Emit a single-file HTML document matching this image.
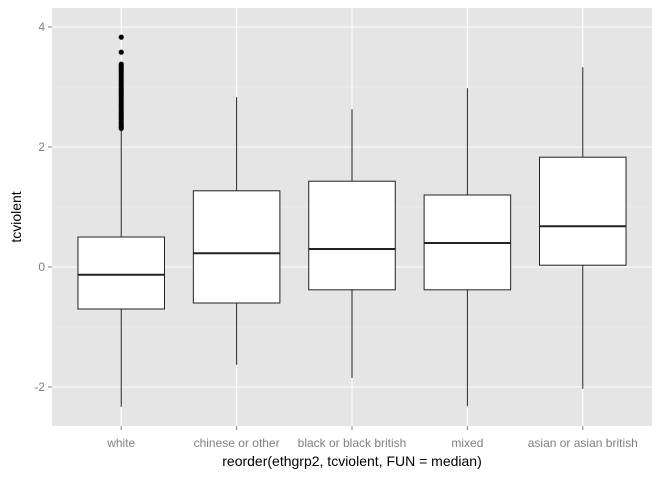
<!DOCTYPE html>
<html><head><meta charset="utf-8"><style>
body{margin:0;background:#fff;font-family:"Liberation Sans",sans-serif}
</style></head><body>
<svg id="c" width="672" height="480" xmlns="http://www.w3.org/2000/svg"></svg>
<script>
const categories=["white","chinese or other","black or black british","mixed","asian or asian british"];
const lowWhisker=[-2.33,-1.63,-1.85,-2.32,-2.03];
const q1=[-0.7,-0.6,-0.38,-0.38,0.03];
const medians=[-0.13,0.23,0.3,0.4,0.68];
const q3=[0.5,1.27,1.43,1.2,1.83];
const highWhisker=[2.28,2.83,2.63,2.98,3.33];
const outliersWhite=[3.83,3.58,3.38,3.34,3.3,3.26,3.22,3.18,3.14,3.1,3.06,3.02,2.98,2.94,2.9,2.86,2.82,2.78,2.74,2.7,2.66,2.62,2.58,2.54,2.5,2.46,2.42,2.38,2.34,2.31];
const yTicks=[-2,0,2,4];
const NS="http://www.w3.org/2000/svg";
const svg=document.getElementById('c');
const L=52,R=652,T=8,B=426;
const step=(R-L)/(categories.length-1+1.2);
const y=v=>267-v*60;
const x=i=>L+(i+0.6)*step;
function el(t,a,p){const e=document.createElementNS(NS,t);for(const k in a)e.setAttribute(k,a[k]);(p||svg).appendChild(e);return e;}
const bg=el('rect',{x:L,y:T,width:R-L,height:B-T,fill:'#e5e5e5'});


for(let i=0;i<yTicks.length-1;i++){const m=(yTicks[i]+yTicks[i+1])/2;el('line',{x1:L,x2:R,y1:y(m),y2:y(m),stroke:'#f2f2f2','stroke-width':0.6});}
yTicks.forEach(v=>{
 const g=el('line',{x1:L,x2:R,y1:y(v),y2:y(v),stroke:'#fff','stroke-width':1.1});
 
 
 el('line',{x1:L-4,x2:L,y1:y(v),y2:y(v),stroke:'#7f7f7f'});
 const t=el('text',{x:L-7,y:y(v)+4,'text-anchor':'end','font-size':12,fill:'#7f7f7f'});t.textContent=v;
 
 
});
categories.forEach((c,i)=>{
 el('line',{x1:x(i),x2:x(i),y1:T,y2:B,stroke:'#fff','stroke-width':1.1});
 el('line',{x1:x(i),x2:x(i),y1:B,y2:B+4,stroke:'#7f7f7f'});
 const t=el('text',{x:x(i),y:447,'text-anchor':'middle','font-size':12,fill:'#7f7f7f'});t.textContent=c;
 
 
});
const hw=step*0.375;
categories.forEach((c,i)=>{
 const g=el('g',{});
 
 
 el('line',{x1:x(i),x2:x(i),y1:y(highWhisker[i]),y2:y(q3[i]),stroke:'#222'},g);
 el('line',{x1:x(i),x2:x(i),y1:y(q1[i]),y2:y(lowWhisker[i]),stroke:'#222'},g);
 el('rect',{x:x(i)-hw,y:y(q3[i]),width:2*hw,height:y(q1[i])-y(q3[i]),fill:'#fff',stroke:'#222'},g);
 el('line',{x1:x(i)-hw,x2:x(i)+hw,y1:y(medians[i]),y2:y(medians[i]),stroke:'#222','stroke-width':2},g);
});
outliersWhite.forEach(v=>{
 const p=el('circle',{cx:x(0),cy:y(v),r:2.6,fill:'#000'});
 
 
});
const xt=el('text',{x:(L+R)/2,y:466,'text-anchor':'middle','font-size':14,fill:'#000'});xt.textContent='reorder(ethgrp2, tcviolent, FUN = median)';


const yt=el('text',{x:0,y:0,'text-anchor':'middle','font-size':14,fill:'#000',transform:'translate(21,217) rotate(-90)'});yt.textContent='tcviolent';


</script>
</body></html>
